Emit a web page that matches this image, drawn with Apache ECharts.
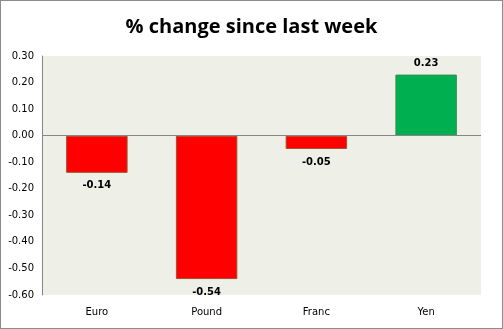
<!DOCTYPE html>
<html><head><meta charset="utf-8">
<script src="https://cdn.jsdelivr.net/npm/echarts@6/dist/echarts.min.js"></script>
<style>html,body{margin:0;padding:0;background:#fff}#c{width:503px;height:329px;box-sizing:border-box;border:1px solid #8c8c8c}</style>
</head><body><div id="c"></div>
<script>
var categories = ['Euro', 'Pound', 'Franc', 'Yen'];
var values = [-0.14, -0.54, -0.05, 0.23];
var yTicks = { min: -0.6, max: 0.3, interval: 0.1 };
var title = '% change since last week';

var chart = echarts.init(document.getElementById('c'), null, {renderer: 'canvas'});
chart.setOption({
  animation: false,
  title: { text: title, left: 'center', top: 11,
    textStyle: { fontFamily: 'Open Sans', fontWeight: 'bold', fontSize: 20, color: '#000' } },
  grid: { left: 41, right: 21, top: 55, bottom: 33, show: true, backgroundColor: '#EEF0E8', borderWidth: 0 },
  xAxis: { type: 'category', data: categories, position: 'bottom',
    axisLine: { show: false }, axisTick: { show: false },
    axisLabel: { fontFamily: 'DejaVu Sans', fontSize: 10, color: '#000', margin: 12 } },
  yAxis: { type: 'value', min: yTicks.min, max: yTicks.max, interval: yTicks.interval,
    axisLine: { show: true, lineStyle: { color: '#868686' } }, axisTick: { show: false },
    splitLine: { show: false },
    axisLabel: { fontFamily: 'DejaVu Sans', fontSize: 10, color: '#000', margin: 8,
      formatter: function (v) { return v.toFixed(2); } } },
  series: [{
    type: 'bar', barWidth: '56%',
    data: values.map(function (v) {
      return { value: v,
        itemStyle: { color: v < 0 ? '#FF0000' : '#00B050', borderColor: v < 0 ? '#A0522D' : '#3C8C50', borderWidth: 1 },
        label: { position: v < 0 ? 'bottom' : 'top', distance: v < 0 ? 8 : 6 } };
    }),
    label: { show: true, fontFamily: 'DejaVu Sans', fontWeight: 'bold', fontSize: 10, color: '#000',
      formatter: function (p) { return p.value.toFixed(2); } },
    markLine: { silent: true, symbol: 'none', label: { show: false },
      lineStyle: { color: '#868686', type: 'solid', width: 1 }, data: [{ yAxis: 0 }] }
  }]
});
</script></body></html>
